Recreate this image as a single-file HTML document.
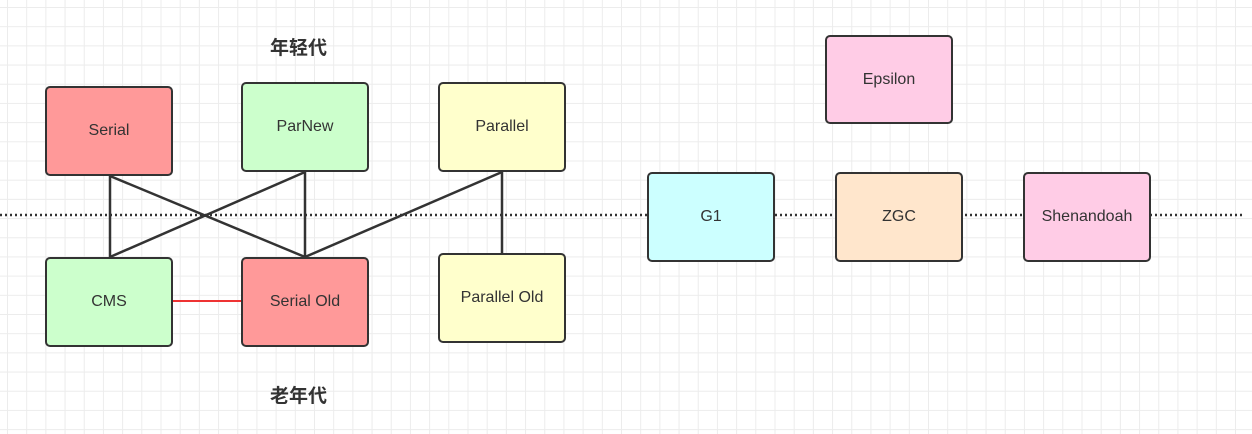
<!DOCTYPE html>
<html><head><meta charset="utf-8"><style>
body{margin:0;width:1252px;height:434px;overflow:hidden;background:#fff;
background-image:linear-gradient(#ececec 1px,transparent 1px),linear-gradient(90deg,#ececec 1px,transparent 1px);
background-size:19.2px 19.2px;background-position:7px 7px;font-family:"Liberation Sans","Noto Sans CJK SC",sans-serif;position:relative}
.b{position:absolute;width:124px;height:86px;border:2px solid #333;border-radius:5px;display:flex;align-items:center;justify-content:center;font-size:16px;color:#333;box-sizing:content-box}
.t{position:absolute;font-weight:bold;font-size:19px;color:#333}
svg{position:absolute;left:0;top:0}
</style></head><body>
<svg width="1252" height="434">
<line x1="0" y1="215" x2="1245" y2="215" stroke="#333" stroke-width="2.5" stroke-dasharray="2,3"/>
<g stroke="#333" stroke-width="2.5">
<line x1="110" y1="176" x2="110" y2="257"/>
<line x1="110" y1="176" x2="305" y2="257"/>
<line x1="305" y1="172" x2="110" y2="257"/>
<line x1="305" y1="172" x2="305" y2="257"/>
<line x1="502" y1="172" x2="305" y2="257"/>
<line x1="502" y1="172" x2="502" y2="253"/>
</g>
<line x1="173" y1="301" x2="241" y2="301" stroke="#e33" stroke-width="2"/>
</svg>
<div class="t" style="left:270px;top:33px">年轻代</div>
<div class="t" style="left:270px;top:381px">老年代</div>
<div class="b" style="left:45px;top:86px;background:#ff9999">Serial</div>
<div class="b" style="left:241px;top:82px;background:#ccffcc">ParNew</div>
<div class="b" style="left:438px;top:82px;background:#ffffcc">Parallel</div>
<div class="b" style="left:45px;top:257px;background:#ccffcc">CMS</div>
<div class="b" style="left:241px;top:257px;background:#ff9999">Serial Old</div>
<div class="b" style="left:438px;top:253px;background:#ffffcc">Parallel Old</div>
<div class="b" style="left:647px;top:172px;background:#ccffff">G1</div>
<div class="b" style="left:835px;top:172px;background:#ffe6cc">ZGC</div>
<div class="b" style="left:1023px;top:172px;background:#ffcce6">Shenandoah</div>
<div class="b" style="left:825px;top:35px;height:85px;background:#ffcce6">Epsilon</div>
</body></html>
